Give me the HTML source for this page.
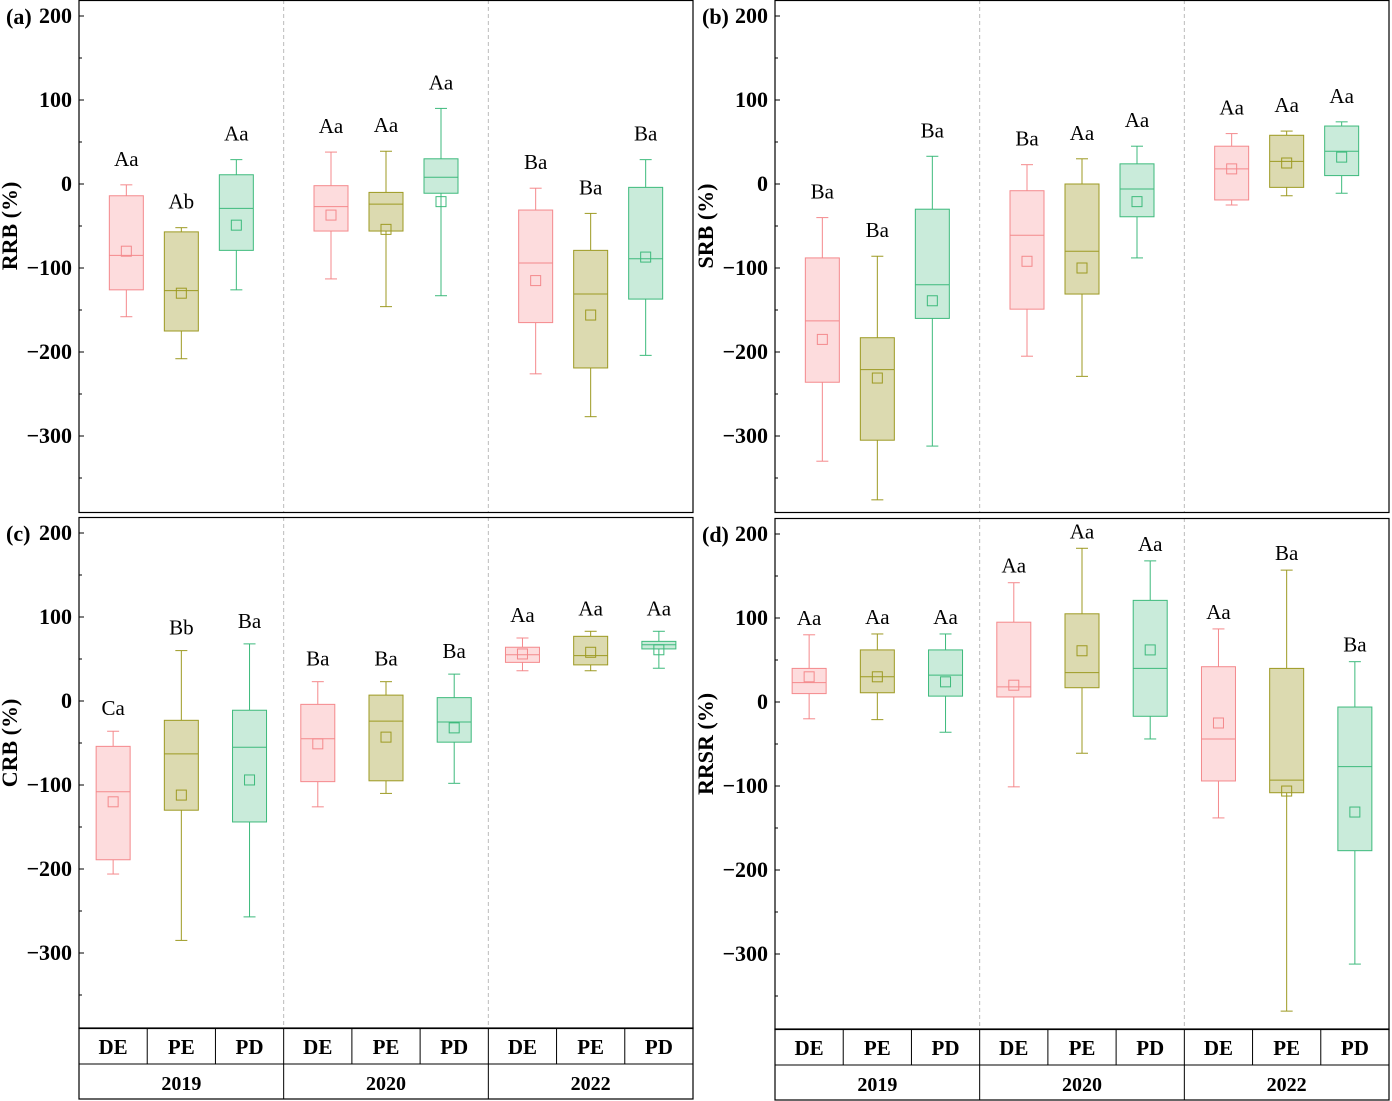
<!DOCTYPE html>
<html><head><meta charset="utf-8"><style>
body{margin:0;background:#fff}
svg{display:block}
svg text{font-family:"Liberation Serif","Times New Roman",serif}
</style></head><body>
<svg id="c" width="1392" height="1101"></svg>
<script>
const groups=["DE","PE","PD"];
const years=["2019","2020","2022"];
const panelNames=["(a)","(b)","(c)","(d)"];
const axisTitles=["RRB (%)","SRB (%)","CRB (%)","RRSR (%)"];
const yTicks=[200,100,0,-100,-200,-300];
// each box: [low, q1, median, q3, high, mean]
const dataA=[[-158,-126,-85,-14,-1,-80],[-208,-175,-127,-57,-52,-130],[-126,-79,-29,11,29,-49],
[-113,-56,-27,-2,38,-37],[-146,-56,-24,-10,39,-54],[-133,-11,8,30,90,-21],
[-226,-165,-94,-31,-5,-115],[-277,-219,-131,-79,-35,-156],[-204,-137,-89,-4,29,-87]];
const dataB=[[-330,-236,-163,-88,-40,-185],[-376,-305,-221,-183,-86,-231],[-312,-160,-120,-30,33,-139],
[-205,-149,-61,-8,23,-92],[-229,-131,-80,0,30,-100],[-88,-39,-6,24,45,-21],
[-25,-19,18,45,60,18],[-14,-4,27,58,63,25],[-11,10,39,69,74,32]];
const dataC=[[-206,-189,-108,-54,-36,-120],[-285,-130,-63,-23,60,-112],[-257,-144,-55,-11,68,-94],
[-126,-96,-45,-4,23,-51],[-110,-95,-24,7,23,-43],[-98,-49,-25,4,32,-32],
[36,46,55,64,75,56],[36,43,54,77,83,58],[39,62,67,71,83,61]];
const dataD=[[-20,10,23,40,80,30],[-21,11,30,62,81,30],[-36,7,32,62,81,24],
[-101,6,18,95,142,20],[-61,17,35,105,183,61],[-44,-17,40,121,168,62],
[-138,-94,-44,42,87,-25],[-368,-108,-93,40,157,-106],[-312,-177,-77,-6,48,-131]];
const lettersA=["Aa","Ab","Aa","Aa","Aa","Aa","Ba","Ba","Ba"];
const lettersB=["Ba","Ba","Ba","Ba","Aa","Aa","Aa","Aa","Aa"];
const lettersC=["Ca","Bb","Ba","Ba","Ba","Ba","Aa","Aa","Aa"];
const lettersD=["Aa","Aa","Aa","Aa","Aa","Aa","Aa","Ba","Ba"];
const allData=[dataA,dataB,dataC,dataD];
const allLetters=[lettersA,lettersB,lettersC,lettersD];
const colors=[{f:"#fddcdd",s:"#f4898c"},{f:"#dcdab0",s:"#9d9a22"},{f:"#c9ebda",s:"#3dba7c"}];
const panels=[{x:79,y:0,z:184,w:614,h:512,sp:55,lo:19},{x:775,y:0,z:184,w:614,h:512,sp:55,lo:19},{x:79,y:517,z:701,w:614,h:511,sp:68.2,lo:16},{x:775,y:518,z:702,w:614,h:511,sp:68.2,lo:10}];
const svg=document.getElementById('c');
const NS="http://www.w3.org/2000/svg";
const FF='"Liberation Serif","Times New Roman",serif';
function mk(t,a,p){const e=document.createElementNS(NS,t);for(const k in a)e.setAttribute(k,a[k]);if(t==='text')e.setAttribute('font-family',FF);(p||svg).appendChild(e);return e;}
panels.forEach((P,pi)=>{
  const g=mk('g',{});
  
  
  const sc=0.84;
  const Y=v=>P.z-v*sc;
  const bw=P.w/9;
  const X=i=>P.x+bw*(Math.floor(i/3)*3+1.5)+(i%3-1)*P.sp;
  const XC=i=>P.x+bw*(i+0.5);
  [3,6].forEach(k=>{const l=mk('line',{x1:P.x+bw*k,x2:P.x+bw*k,y1:P.y,y2:P.y+P.h,stroke:"#bbb","stroke-dasharray":"4,3","stroke-width":1},g);
    });
  yTicks.forEach(t=>{
    mk('line',{x1:P.x,x2:P.x+5,y1:Y(t),y2:Y(t),stroke:"#000","stroke-width":1},g);
    mk('line',{x1:P.x,x2:P.x+3,y1:Y(t-50),y2:Y(t-50),stroke:"#000","stroke-width":1},g);
    const tx=mk('text',{x:P.x-7,y:Y(t)+7,"text-anchor":"end","font-size":22,"font-weight":"bold"},g);
    tx.textContent=(t<0?"\u2212"+(-t):t);
    
  });
  mk('line',{x1:P.x,x2:P.x+3,y1:Y(150),y2:Y(150),stroke:"#000"},g);
  const d=allData[pi],L=allLetters[pi];
  d.forEach((b,i)=>{
    const c=colors[i%3],cx=X(i),hw=17;
    const bg=mk('g',{},g);
    
    
    mk('line',{x1:cx,x2:cx,y1:Y(b[0]),y2:Y(b[4]),stroke:c.s},bg);
    mk('line',{x1:cx-6,x2:cx+6,y1:Y(b[0]),y2:Y(b[0]),stroke:c.s},bg);
    mk('line',{x1:cx-6,x2:cx+6,y1:Y(b[4]),y2:Y(b[4]),stroke:c.s},bg);
    mk('rect',{x:cx-hw,y:Y(b[3]),width:hw*2,height:Math.max(1,Y(b[1])-Y(b[3])),fill:c.f,stroke:c.s},bg);
    mk('line',{x1:cx-hw,x2:cx+hw,y1:Y(b[2]),y2:Y(b[2]),stroke:c.s},bg);
    mk('rect',{x:cx-5,y:Y(b[5])-5,width:10,height:10,fill:"none",stroke:c.s},bg);
    const lt=mk('text',{x:cx,y:Y(b[4])-P.lo,"text-anchor":"middle","font-size":21},g);
    lt.textContent=L[i];
    
  });
  const fr=mk('rect',{x:P.x,y:P.y+0.5,width:P.w,height:P.h,fill:"none",stroke:"#000","stroke-width":1.2},g);
  
  const pl=mk('text',{x:P.x-73,y:P.y+24,"font-size":22,"font-weight":"bold"},g);
  pl.textContent=panelNames[pi];
  
  const at=mk('text',{x:0,y:0,"text-anchor":"middle","font-size":22,"font-weight":"bold",transform:`translate(${P.x-62},${Y(-50)}) rotate(-90)`},g);
  at.textContent=axisTitles[pi];
  
  if(pi>=2){
    const tb=P.y+P.h, r1=tb+36, r2=tb+71;
    const tg=mk('g',{},g);
    
    mk('rect',{x:P.x,y:tb,width:P.w,height:71,fill:"none",stroke:"#000","stroke-width":1.2},tg);
    mk('line',{x1:P.x,x2:P.x+P.w,y1:r1,y2:r1,stroke:"#000"},tg);
    for(let k=1;k<9;k++) mk('line',{x1:P.x+bw*k,x2:P.x+bw*k,y1:tb,y2:(k%3==0?r2:r1),stroke:"#000"},tg);
    for(let k=0;k<9;k++){const t=mk('text',{x:XC(k),y:tb+26,"text-anchor":"middle","font-size":21,"font-weight":"bold"},tg);t.textContent=groups[k%3];
      }
    for(let k=0;k<3;k++){const t=mk('text',{x:P.x+bw*(3*k+1.5),y:r1+26,"text-anchor":"middle","font-size":20,"font-weight":"bold"},tg);t.textContent=years[k];
      }
  }
});
</script>
</body></html>
